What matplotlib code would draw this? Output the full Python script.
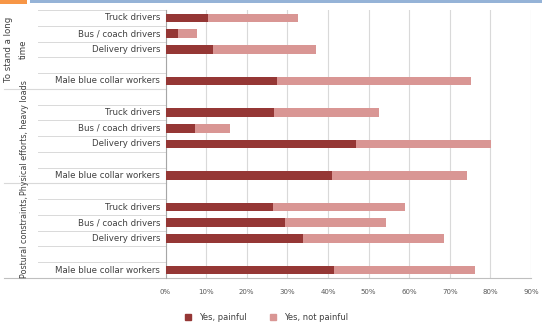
import matplotlib
matplotlib.use("Agg")
import matplotlib.pyplot as plt
from matplotlib.patches import Rectangle
from matplotlib.lines import Line2D

# ---- data ----
groups = ["To stand a long\ntime", "Physical efforts, heavy loads", "Postural constraints,"]
categories = ["Truck drivers", "Bus / coach drivers", "Delivery drivers", "Male blue collar workers"]
painful = [
    [10.4, 3.0, 11.6, 27.4],
    [26.7, 7.2, 47.0, 41.1],
    [26.5, 29.4, 33.8, 41.6],
]
total = [
    [32.6, 7.7, 37.0, 75.2],
    [52.6, 16.0, 80.2, 74.3],
    [58.9, 54.3, 68.7, 76.3],
]
not_painful = [[t - p for t, p in zip(tt, pp)] for tt, pp in zip(total, painful)]
xticks = [0, 10, 20, 30, 40, 50, 60, 70, 80, 90]
xticklabels = [f"{v}%" for v in xticks]
series_names = ["Yes, painful", "Yes, not painful"]

DARK = "#953735"
LIGHT = "#D99694"
GRID = "#D9D9D9"

W, H = 542, 325
fig = plt.figure(figsize=(W / 100, H / 100), dpi=100)
fig.patch.set_facecolor("white")

# header decorations
fig.add_artist(Rectangle((0, 1 - 4 / H), 27 / W, 4 / H, transform=fig.transFigure,
                         facecolor="#F79646", edgecolor="none"))
fig.add_artist(Rectangle((30 / W, 1 - 3 / H), 1 - 30 / W, 3 / H, transform=fig.transFigure,
                         facecolor="#95B3D7", edgecolor="none"))

x0, x1 = 165.5, 531.0
ytop, ybot = 10.0, 278.0
ax = fig.add_axes([x0 / W, 1 - ybot / H, (x1 - x0) / W, (ybot - ytop) / H])

row_pos = []
for g in range(3):
    base = g * 6
    row_pos.append([base + 0, base + 1, base + 2, base + 4])

bar_h = 0.55
for g in range(3):
    ax.barh(row_pos[g], painful[g], height=bar_h, color=DARK, zorder=3)
    ax.barh(row_pos[g], not_painful[g], left=painful[g], height=bar_h, color=LIGHT, zorder=3)

ax.set_xlim(0, 90)
ax.set_ylim(16.5, -0.5)
ax.set_xticks(xticks)
ax.set_xticklabels(xticklabels, fontsize=5, color="#595959")
ax.tick_params(axis="x", length=0, pad=8)
ax.grid(axis="x", color=GRID, linewidth=0.8, zorder=0)
ax.set_yticks([])
for s in ["top", "right"]:
    ax.spines[s].set_visible(False)
ax.spines["bottom"].set_visible(False)
ax.spines["left"].set_color("#A6A6A6")
ax.spines["left"].set_linewidth(0.8)

trans = ax.get_yaxis_transform()

def xa(px):
    return (px - x0) / (x1 - x0)

# category labels
for g in range(3):
    for r, name in zip(row_pos[g], categories):
        ax.text(xa(160), r, name, transform=trans, ha="right", va="center",
                fontsize=6.2, color="#404040")

# separator lines in label area
group_bounds = [4.5, 10.5]
for k in range(0, 17):
    b = k - 0.5
    if b in group_bounds:
        continue
    ax.plot([xa(38), 0], [b, b], transform=trans, color=GRID, linewidth=0.7, clip_on=False)
for b in group_bounds:
    ax.plot([xa(4), 0], [b, b], transform=trans, color=GRID, linewidth=0.8, clip_on=False)
ax.plot([xa(4), 1], [16.5, 16.5], transform=trans, color="#BFBFBF", linewidth=0.8, clip_on=False)

# group labels
centers = [2.0, 7.6, 13.9]
gx = [16, 24.5, 24.5]
gfs = [6.2, 5.8, 5.8]
for g in range(3):
    ax.text(xa(gx[g]), centers[g], groups[g], transform=trans, rotation=90,
            ha="center", va="center", fontsize=gfs[g], color="#404040", linespacing=1.9,
            multialignment="center")

# legend
handles = [Line2D([], [], marker="s", linestyle="none", markersize=4, color=DARK),
           Line2D([], [], marker="s", linestyle="none", markersize=4, color=LIGHT)]
fig.legend(handles, series_names, loc="center", bbox_to_anchor=(264 / W, 1 - 317 / H),
           ncol=2, frameon=False, fontsize=6, handletextpad=0.3, columnspacing=2.2,
           labelcolor="#404040")

fig.savefig("out.png", dpi=100, facecolor="white")
